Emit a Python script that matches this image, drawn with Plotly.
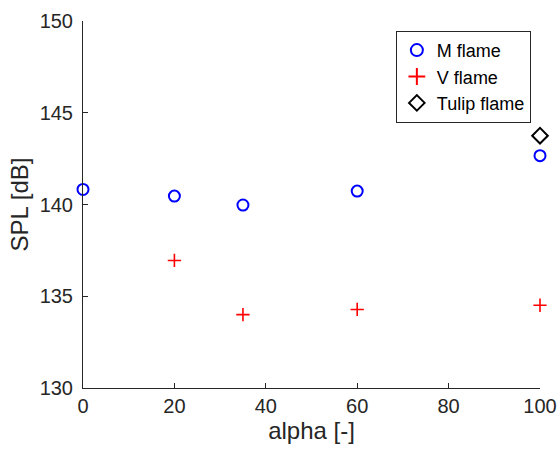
import plotly.graph_objects as go

m_alpha = [0, 20, 35, 60, 100]
m_spl = [140.82, 140.46, 139.97, 140.73, 142.66]
v_alpha = [20, 35, 60, 100]
v_spl = [136.95, 134.0, 134.28, 134.51]
t_alpha = [100]
t_spl = [143.75]

FONT = "Liberation Sans, Arial, Helvetica, sans-serif"

fig = go.Figure()
fig.add_trace(go.Scatter(x=m_alpha, y=m_spl, mode="markers", name="M flame",
                         marker=dict(symbol="circle-open", size=11, color="#0000ff",
                                     line=dict(width=2, color="#0000ff")),
                         cliponaxis=False))
fig.add_trace(go.Scatter(x=v_alpha, y=v_spl, mode="markers", name="V flame",
                         marker=dict(symbol="cross-thin-open", size=9.5, color="#ff0000",
                                     line=dict(width=1.6, color="#ff0000")),
                         cliponaxis=False))
fig.add_trace(go.Scatter(x=t_alpha, y=t_spl, mode="markers", name="Tulip flame",
                         marker=dict(symbol="diamond-open", size=12, color="#000000",
                                     line=dict(width=2, color="#000000")),
                         cliponaxis=False))

axis_common = dict(showline=True, linecolor="#262626", linewidth=1, ticks="inside",
                   ticklen=5, tickcolor="#262626", showgrid=False, zeroline=False,
                   mirror=False, automargin=False,
                   tickfont=dict(family=FONT, size=20, color="#262626"))

fig.update_layout(
    width=558, height=450,
    margin=dict(l=83, r=18, t=21, b=62),
    paper_bgcolor="white", plot_bgcolor="white",
    font=dict(family=FONT, color="#262626"),
    xaxis=dict(range=[0, 100], tickvals=[0, 20, 40, 60, 80, 100],
               title=dict(text="alpha [-]", font=dict(family=FONT, size=24, color="#262626"), standoff=2),
               **axis_common),
    yaxis=dict(range=[130, 150], tickvals=[130, 135, 140, 145, 150], ticklabelstandoff=5,
               title=dict(text="SPL [dB]", font=dict(family=FONT, size=24, color="#262626"), standoff=4),
               **axis_common),
    legend=dict(x=0.98, y=0.973, xanchor="right", yanchor="top",
                bordercolor="#262626", borderwidth=1, bgcolor="white",
                font=dict(family=FONT, size=18, color="#000000"), itemsizing="constant",
                tracegroupgap=0),
    showlegend=True,
)

fig.write_html("out.html", config={"displayModeBar": False},
               post_script="document.body.style.margin='0';document.body.style.padding='0';")
